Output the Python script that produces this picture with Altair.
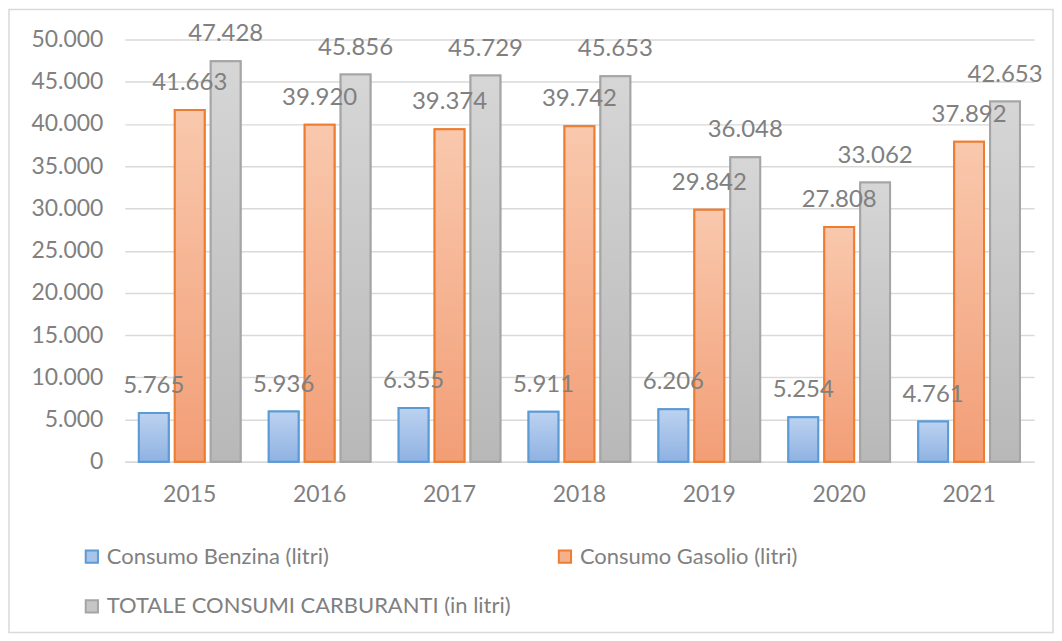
import altair as alt
import pandas as pd

anni = ["2015", "2016", "2017", "2018", "2019", "2020", "2021"]
benzina = [5765, 5936, 6355, 5911, 6206, 5254, 4761]
gasolio = [41663, 39920, 39374, 39742, 29842, 27808, 37892]
totale = [47428, 45856, 45729, 45653, 36048, 33062, 42653]
serie = ["Consumo Benzina (litri)", "Consumo Gasolio (litri)", "TOTALE CONSUMI CARBURANTI (in litri)"]
y_ticks = [0, 5000, 10000, 15000, 20000, 25000, 30000, 35000, 40000, 45000, 50000]

fills = ["#a9c4eb", "#f5b08c", "#c6c6c6"]
strokes = ["#5b9bd5", "#ed7d31", "#a5a5a5"]
grad_top = ["#bcd2f0", "#f9c8ad", "#d6d6d6"]
grad_bot = ["#8fb2e2", "#f29e76", "#b8b8b8"]

rows = []
for i, a in enumerate(anni):
    for s, vals in zip(serie, [benzina, gasolio, totale]):
        rows.append({"anno": a, "serie": s, "valore": vals[i]})
df = pd.DataFrame(rows)

FONT = "Lato"
GREY = "#808080"

x_enc = alt.X("anno:N", sort=anni, title=None,
              scale=alt.Scale(paddingInner=0.17, paddingOuter=0.085),
              axis=alt.Axis(labelAngle=0, labelFontSize=23, labelColor=GREY, labelFont=FONT,
                            labelPadding=22, ticks=False, domainColor="#d9d9d9",
                            domainWidth=1.5))
xo_enc = alt.XOffset("serie:N", sort=serie,
                     scale=alt.Scale(paddingInner=0.17, paddingOuter=0.085))
y_enc = alt.Y("valore:Q", title=None,
              scale=alt.Scale(domain=[0, 50000], nice=False),
              axis=alt.Axis(values=y_ticks, labelFontSize=23, labelColor=GREY, labelFont=FONT,
                            labelPadding=22, ticks=False, domain=False,
                            gridColor="#d9d9d9", gridWidth=1.5,
                            labelExpr="replace(format(datum.value, ','), ',', '.')"))

# entries are laid out column by column: order so that row 1 = Benzina, Gasolio
legend_order = [serie[0], serie[2], serie[1]]
legend = alt.Legend(title=None, orient="none", legendX=-44, legendY=507, columns=2,
                    values=legend_order,
                    gridAlign="none", columnPadding=43, rowPadding=28,
                    symbolType="square", symbolSize=150, symbolStrokeWidth=2,
                    labelFontSize=22, labelFont=FONT, labelColor=GREY, labelLimit=600,
                    symbolOffset=0, labelOffset=4)

base = alt.Chart(df)

bars = base.mark_bar(strokeWidth=2).encode(
    x=x_enc, xOffset=xo_enc, y=y_enc,
    color=alt.Color("serie:N", sort=serie, scale=alt.Scale(domain=serie, range=fills), legend=legend),
    stroke=alt.Stroke("serie:N", sort=serie, scale=alt.Scale(domain=serie, range=strokes), legend=legend),
)

overlays = []
for s, gt, gb, st in zip(serie, grad_top, grad_bot, strokes):
    grad = alt.LinearGradient(gradient="linear",
                              stops=[alt.GradientStop(color=gt, offset=0),
                                     alt.GradientStop(color=gb, offset=1)],
                              x1=0, x2=0, y1=0, y2=1)
    overlays.append(
        base.transform_filter(alt.datum.serie == s).mark_bar(strokeWidth=2).encode(
            x=x_enc, xOffset=xo_enc, y=y_enc,
            color=alt.value(grad), stroke=alt.value(st))
    )

labels = base.transform_calculate(
    lab="replace(format(datum.valore, ','), ',', '.')"
).mark_text(dy=-27, baseline="middle", fontSize=24, font=FONT, color=GREY).encode(
    x=x_enc, xOffset=xo_enc, y=y_enc, text="lab:N")

frame = alt.Chart(alt.Data(values=[{"a": 1}])).mark_rect(
    fill=None, stroke="#d9d9d9", strokeWidth=1.5).encode(
    x=alt.value(-116), x2=alt.value(930), y=alt.value(-30), y2=alt.value(594))

chart = alt.layer(bars, *overlays, labels, frame).properties(
    width=911, height=423, padding=0, background="white"
).configure_view(stroke=None)

chart.save("out.html", embed_options={"renderer": "svg", "actions": False})
